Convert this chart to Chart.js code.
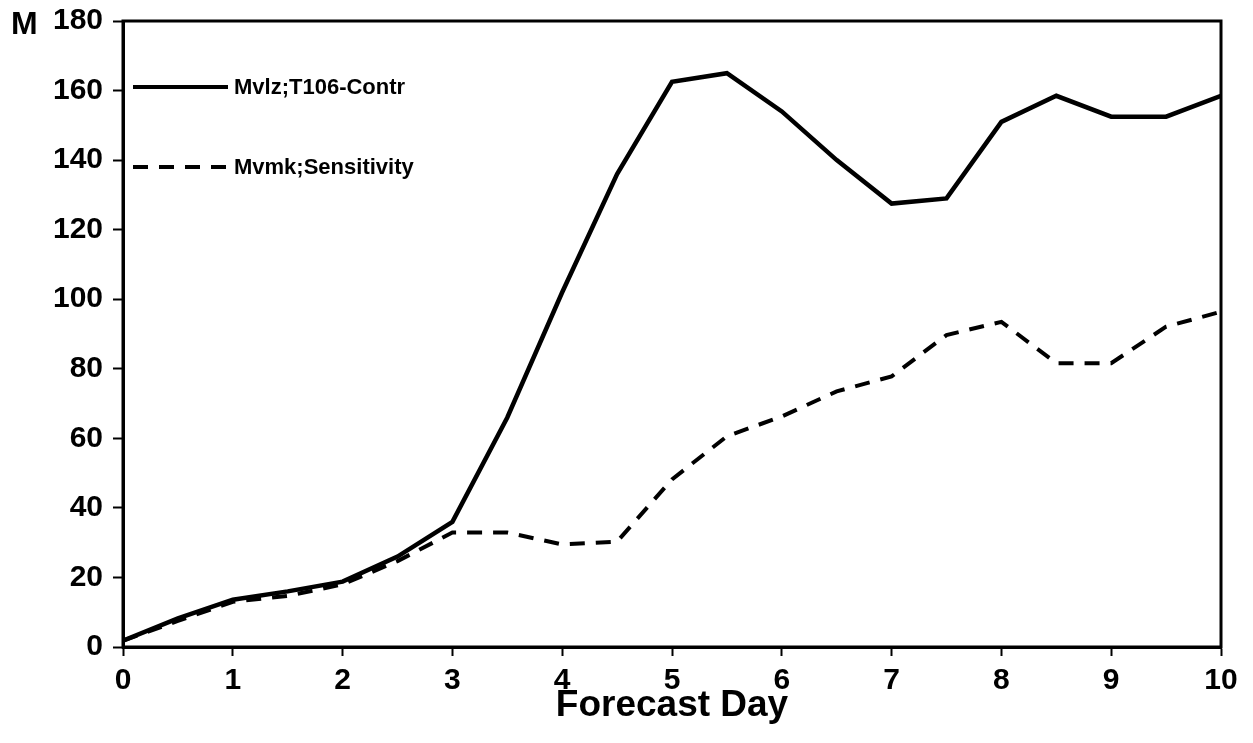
<!DOCTYPE html>
<html>
<head>
<meta charset="utf-8">
<title>Forecast Day</title>
<script src="https://cdn.jsdelivr.net/npm/chart.js@4.4.1/dist/chart.umd.min.js"></script>
<style>
  html, body { margin: 0; padding: 0; background: #fff; }
  #wrap { width: 1253px; height: 743px; }
</style>
</head>
<body>
<div id="wrap"><canvas id="chart" width="1253" height="743"></canvas></div>
<script>
const days = [0, 0.5, 1, 1.5, 2, 2.5, 3, 3.5, 4, 4.5, 5, 5.5, 6, 6.5, 7, 7.5, 8, 8.5, 9, 9.5, 10];
const controlValues = [1.8, 8.2, 13.6, 16, 18.8, 26, 36, 66, 102, 136, 162.5, 165, 154, 140, 127.5, 129, 151, 158.5, 152.5, 152.5, 158.5];
const sensitivityValues = [1.8, 7.5, 13, 14.7, 18, 24.7, 32.9, 32.9, 29.5, 30.3, 48.2, 60.6, 66.3, 73.5, 77.8, 89.7, 93.5, 81.6, 81.6, 92.1, 96.4];
const seriesNames = ['Mvlz;T106-Contr', 'Mvmk;Sensitivity'];
const yTicks = [0, 20, 40, 60, 80, 100, 120, 140, 160, 180];
const xTicks = [0, 1, 2, 3, 4, 5, 6, 7, 8, 9, 10];

const FONT = '"Liberation Sans", Arial, Helvetica, sans-serif';
const DASH = [15, 11];

const toPoints = vals => vals.map((v, i) => ({ x: days[i], y: v }));

// box around the plot, the "M" unit label and the in-plot legend
const decorations = {
  id: 'decorations',
  afterDraw(chart) {
    const { ctx, chartArea: a } = chart;
    ctx.save();
    ctx.strokeStyle = '#000';
    ctx.lineWidth = 3;
    ctx.strokeRect(a.left, a.top, a.right - a.left, a.bottom - a.top);

    ctx.fillStyle = '#000';
    ctx.font = 'bold 32px ' + FONT;
    ctx.textBaseline = 'alphabetic';
    ctx.textAlign = 'left';
    ctx.fillText('M', 11, 34);

    const rows = [
      { y: 87, dash: [] , width: 4 },
      { y: 167, dash: DASH, width: 4 }
    ];
    ctx.font = 'bold 22px ' + FONT;
    ctx.textBaseline = 'middle';
    rows.forEach((r, i) => {
      ctx.beginPath();
      ctx.setLineDash(r.dash);
      ctx.lineWidth = r.width;
      ctx.moveTo(133, r.y);
      ctx.lineTo(228, r.y);
      ctx.stroke();
      ctx.setLineDash([]);
      ctx.fillText(seriesNames[i], 234, r.y + 1);
    });
    ctx.restore();
  }
};

new Chart(document.getElementById('chart'), {
  type: 'line',
  data: {
    datasets: [
      {
        label: seriesNames[0],
        data: toPoints(controlValues),
        borderColor: '#000',
        borderWidth: 4.5,
        pointRadius: 0,
        tension: 0,
        fill: false
      },
      {
        label: seriesNames[1],
        data: toPoints(sensitivityValues),
        borderColor: '#000',
        borderWidth: 4,
        borderDash: DASH,
        pointRadius: 0,
        tension: 0,
        fill: false
      }
    ]
  },
  options: {
    responsive: false,
    animation: false,
    layout: { padding: { left: 0, right: 32, top: 21, bottom: 0 } },
    plugins: {
      legend: { display: false },
      tooltip: { enabled: false }
    },
    scales: {
      x: {
        type: 'linear',
        min: 0,
        max: 10,
        afterBuildTicks: s => { s.ticks = xTicks.map(v => ({ value: v })); },
        afterFit: s => { s.height = 96; s.paddingLeft = 0; s.paddingRight = 0; },
        grid: { drawOnChartArea: false, drawTicks: true, tickLength: 9, tickWidth: 2, tickColor: '#000' },
        border: { color: '#000', width: 3 },
        ticks: { color: '#000', padding: 7, maxRotation: 0, font: { family: FONT, size: 30, weight: 'bold' } },
        title: {
          display: true,
          text: 'Forecast Day',
          color: '#000',
          font: { family: FONT, size: 37, weight: 'bold' },
          padding: { top: 0, bottom: 15 }
        }
      },
      y: {
        min: 0,
        max: 180,
        afterBuildTicks: s => { s.ticks = yTicks.map(v => ({ value: v })); },
        afterFit: s => { s.width = 123; s.paddingTop = 0; s.paddingBottom = 0; },
        grid: { drawOnChartArea: false, drawTicks: true, tickLength: 10, tickWidth: 2, tickColor: '#000' },
        border: { color: '#000', width: 3 },
        ticks: { color: '#000', padding: 10, font: { family: FONT, size: 30, weight: 'bold' } }
      }
    }
  },
  plugins: [decorations]
});
</script>
</body>
</html>
